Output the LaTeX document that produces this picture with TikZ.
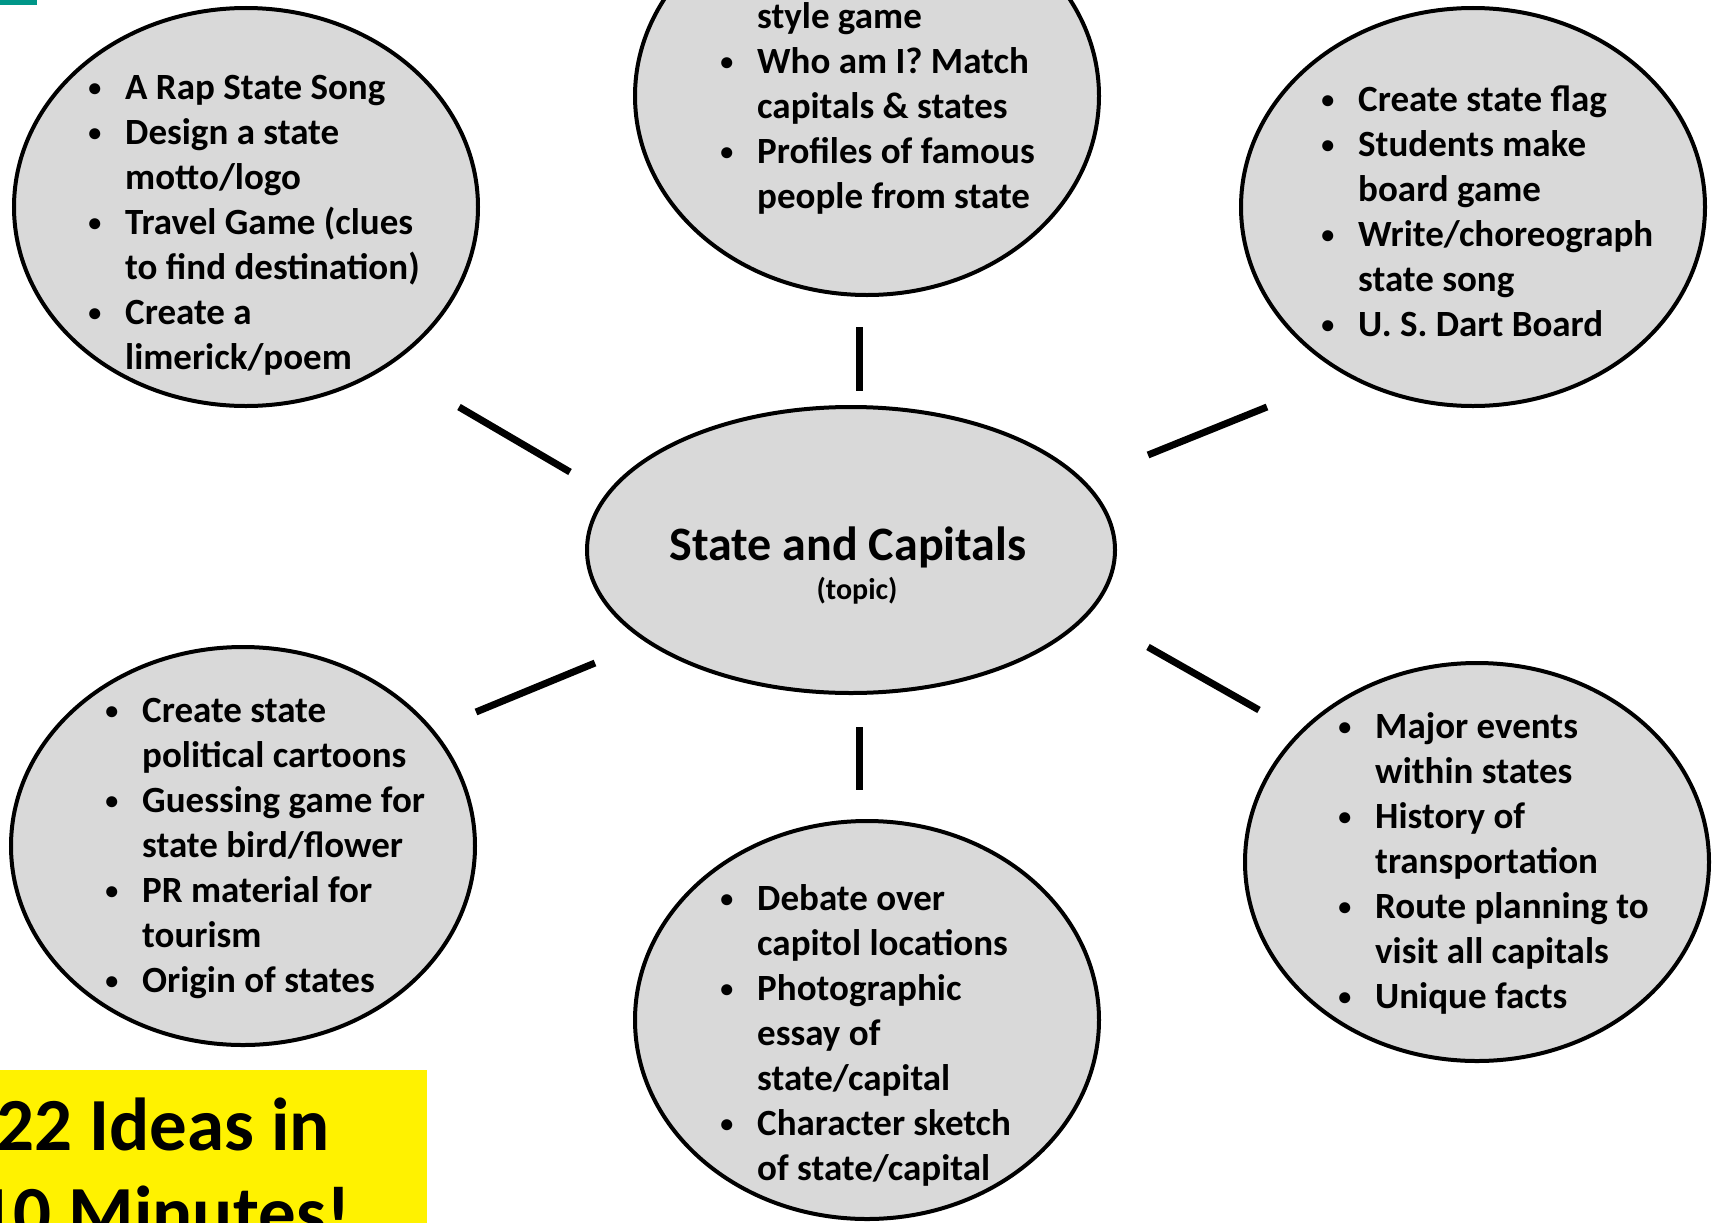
\documentclass[tikz,border=0pt]{standalone}
\usepackage{fontspec}
\setmainfont{Carlito}
\usepackage{xcolor}
\usetikzlibrary{shapes.geometric, positioning}
\definecolor{bubblegray}{RGB}{217,217,217}
\definecolor{tealmark}{RGB}{0,150,136}
\newcommand{\bl}{\llap{\raisebox{3pt}{\fontsize{26}{26}\selectfont\textbullet}\hspace{24pt}}}

\begin{document}
\begin{tikzpicture}[x=1pt,y=-1pt]
    \tikzstyle{bubble}=[shape=ellipse,draw,line width=4pt,fill=bubblegray,minimum width=464pt,minimum height=398pt,inner sep=0pt]
    \tikzstyle{ideas}=[anchor=base west,align=left,inner sep=0pt,font=\bfseries\fontsize{37}{45}\selectfont]
    \tikzstyle{spoke}=[line width=7pt]

    \useasboundingbox (0,0) rectangle (1713,1223);
    \clip (0,0) rectangle (1713,1223);

    \node[fill=tealmark,anchor=north west,minimum width=37pt,minimum height=5pt,inner sep=0pt] (mark) at (0,0) {};

    % topic in the middle
    \node[bubble,minimum width=528pt,minimum height=286pt] (topic) at (851,550) {};
    \node[anchor=base,inner sep=0pt,font=\bfseries\fontsize{48}{56}\selectfont] (title) at (848,560) {State and Capitals};
    \node[anchor=base,inner sep=0pt,font=\bfseries\fontsize{30}{36}\selectfont] (sub) at (857,599) {(topic)};

    % the six idea bubbles
    \node[bubble] (songs) at (246,207) {};
    \node[bubble] (games) at (867,96) {};
    \node[bubble] (flags) at (1473,207) {};
    \node[bubble] (cartoons) at (243,846) {};
    \node[bubble] (debate) at (867,1020) {};
    \node[bubble] (events) at (1477,862) {};

    % (base of a multi-line node = last line)
    \node[ideas] (songsText) at (125,369) {\bl A Rap State Song\\\bl Design a state\\motto/logo\\\bl Travel Game (clues\\to find destination)\\\bl Create a\\limerick/poem};
    \node[ideas] (gamesText) at (757,208) {style game\\\bl Who am I? Match\\capitals \& states\\\bl Profiles of famous\\people from state};
    \node[ideas] (flagsText) at (1358,336) {\bl Create state flag\\\bl Students make\\board game\\\bl Write/choreograph\\state song\\\bl U. S. Dart Board};
    \node[ideas] (cartoonsText) at (142,992) {\bl Create state\\political cartoons\\\bl Guessing game for\\state bird/flower\\\bl PR material for\\tourism\\\bl Origin of states};
    \node[ideas] (debateText) at (757,1180) {\bl Debate over\\capitol locations\\\bl Photographic\\essay of\\state/capital\\\bl Character sketch\\of state/capital};
    \node[ideas] (eventsText) at (1375,1008) {\bl Major events\\within states\\\bl History of\\transportation\\\bl Route planning to\\visit all capitals\\\bl Unique facts};

    % spokes, floating between the bubbles
    \coordinate (s1a) at (459,407);  \coordinate (s1b) at (570,472);
    \coordinate (s2a) at (859,327);  \coordinate (s2b) at (859,391);
    \coordinate (s3a) at (1148,455); \coordinate (s3b) at (1267,407);
    \coordinate (s4a) at (476,712);  \coordinate (s4b) at (595,663);
    \coordinate (s5a) at (859,727);  \coordinate (s5b) at (859,790);
    \coordinate (s6a) at (1148,647); \coordinate (s6b) at (1259,710);

    \path[draw,spoke]
    (s1a) edge (s1b)
    (s2a) edge (s2b)
    (s3a) edge (s3b)
    (s4a) edge (s4b)
    (s5a) edge (s5b)
    (s6a) edge (s6b)
    ;

    % yellow banner
    \node[fill=yellow,anchor=north west,minimum width=427pt,minimum height=160pt,inner sep=0pt] (badge) at (0,1070) {};
    \node[anchor=base,align=center,inner sep=0pt,font=\bfseries\fontsize{75}{88}\selectfont] (badgeText) at (163,1238) {22 Ideas in\\10 Minutes!};

  \end{tikzpicture}
\end{document}
